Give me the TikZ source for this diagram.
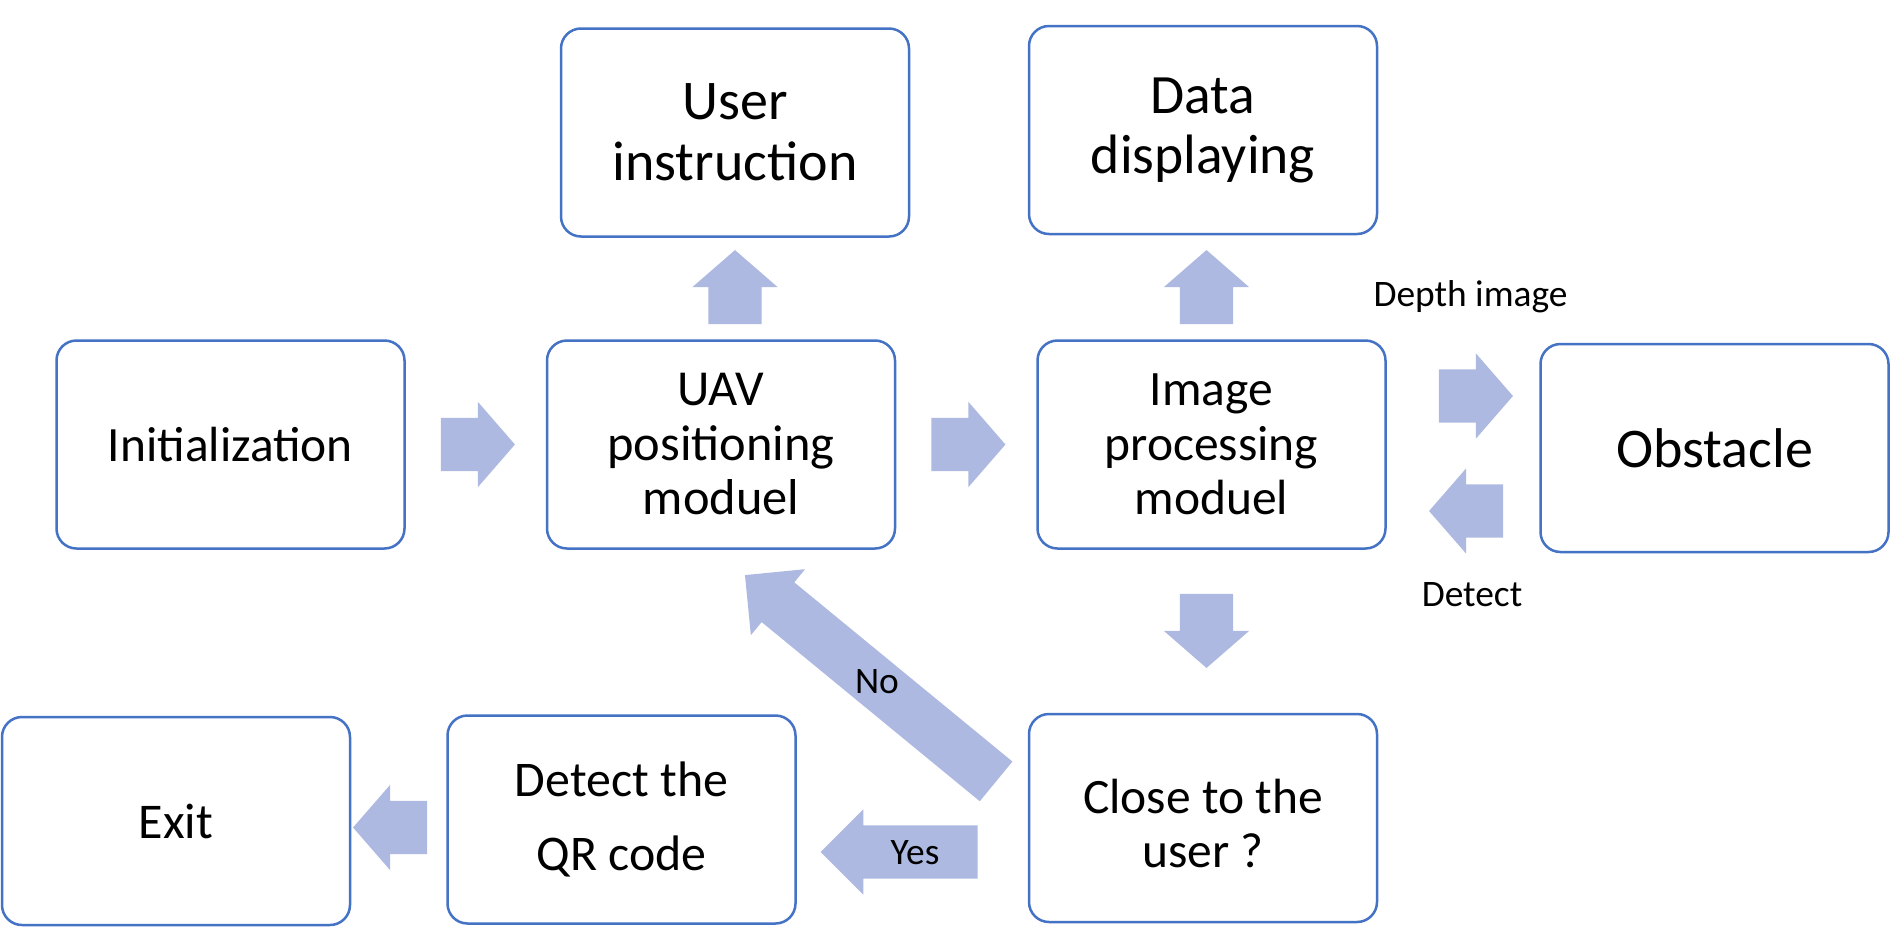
\documentclass[tikz,border=0pt]{standalone}
\usepackage{fontspec}
\setmainfont{Carlito}
\usetikzlibrary{shapes.arrows,calc}
\definecolor{boxline}{RGB}{68,114,196}
\definecolor{arrowfill}{RGB}{173,185,224}
\tikzset{
  stepbox/.style={draw=boxline, line width=2.5pt, rounded corners=20pt, fill=white,
    minimum width=348pt, minimum height=208pt, align=center, inner sep=0pt,
    font=\fontsize{50}{55}\selectfont},
  flow/.style={single arrow, fill=arrowfill, draw=none, inner xsep=0pt, inner ysep=26.5pt,
    minimum height=74pt, single arrow head extend=16pt,
    single arrow tip angle=98, anchor=tail},
  lbl/.style={font=\fontsize{37.4}{41}\selectfont, anchor=base, inner sep=0pt}
}
\begin{document}
\begin{tikzpicture}[x=1pt, y=-1pt]
\useasboundingbox (0,0) rectangle (1891,927);
% boxes
\node[stepbox, font=\fontsize{56}{61}\selectfont] (user) at (735,132.5) {User\\instruction};
\node[stepbox, font=\fontsize{55.5}{60}\selectfont] (data) at (1203,130) {Data\\displaying};
\node[stepbox, font=\fontsize{49.4}{55}\selectfont] (init) at (230.5,444.5) {Initialization};
\node[stepbox, font=\fontsize{50.4}{54.5}\selectfont] (uav) at (721,444.5) {UAV\\positioning\\moduel};
\node[stepbox, font=\fontsize{49.5}{54.5}\selectfont] (img) at (1211.5,444.5) {Image\\processing\\moduel};
\node[stepbox, font=\fontsize{56}{62}\selectfont] (obst) at (1714.5,448) {Obstacle};
\node[stepbox] (exit) at (176,821) {Exit};
\node[stepbox, font=\fontsize{49.9}{74}\selectfont] (qr) at (621.5,819.5) {Detect the\\QR code};
\node[stepbox, font=\fontsize{49.5}{54}\selectfont] (close) at (1203,818) {\rule{0pt}{46pt}Close to the\\user ?};
% arrows
\node[flow] (a1) at ($(init.east)+(35,0)$) {};
\node[flow] (a2) at ($(uav.east)+(35,0)$) {};
\node[flow, rotate=90] (a3) at ($(user.south |- uav.north)+(0,-15)$) {};
\node[flow, rotate=90] (a4) at ($(img.north)+(-5,-15)$) {};
\node[flow, rotate=-90] (a5) at ($(img.south)+(-5,44)$) {};
\node[flow] (a6) at ($(img.east)+(52,-48.5)$) {};
\node[flow, rotate=180] (a7) at ($(obst.west)+(-36,63)$) {};
\node[flow, rotate=180, minimum height=157pt, single arrow tip angle=90] (yes) at ($(close.west)+(-50,34)$) {};
\node[flow, rotate=180] (a9) at ($(qr.west)+(-19,8)$) {};
\node[flow, rotate=140.6, minimum height=325pt, inner ysep=25.5pt, single arrow tip angle=90, single arrow head extend=17pt] (no) at ($(close.west)+(-31.5,-36.5)$) {};
% labels
\node[lbl] (ldepth) at (1470.5,306) {Depth image};
\node[lbl] (ldetect) at (1472,606) {Detect};
\node[lbl] (lyes) at (915,864) {Yes};
\node[lbl] (lno) at (877,693) {No};
\end{tikzpicture}
\end{document}
